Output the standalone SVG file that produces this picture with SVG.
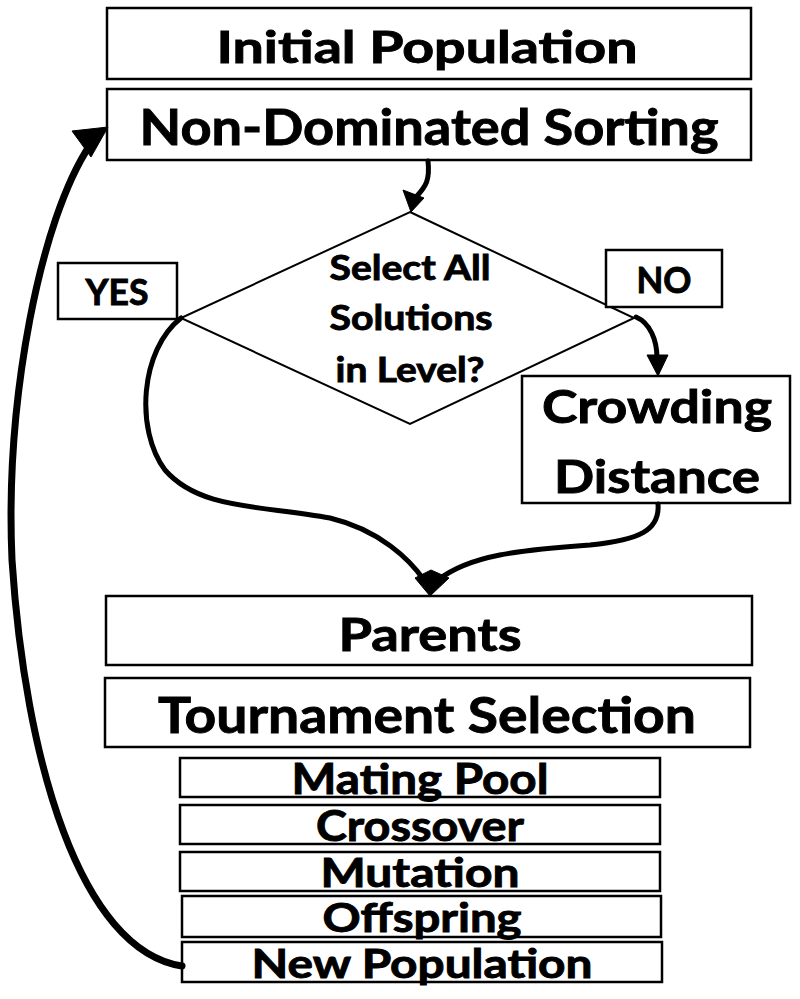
<svg xmlns="http://www.w3.org/2000/svg" width="800" height="999" viewBox="0 0 800 999">
<style>
.box{fill:#fff;stroke:#000;stroke-width:2.5}
.t{font-family:Lato,"Open Sans","Liberation Sans",sans-serif;font-weight:bold;fill:#000;stroke:#000;stroke-width:0.9;text-anchor:middle}
.c{fill:none;stroke:#000;stroke-linecap:round}
.h{fill:#000;stroke:#000;stroke-width:1;stroke-linejoin:round}
</style>
<rect width="800" height="999" fill="#fff"/>
<g id="initial-population">
<rect class="box" x="107" y="8" width="644" height="71"/>
<text class="t" x="427" y="63" font-size="43" textLength="421" lengthAdjust="spacingAndGlyphs">Initial Population</text>
</g>
<g id="non-dominated-sorting">
<rect class="box" x="107" y="89" width="644" height="71"/>
<text class="t" x="429" y="145" font-size="49" textLength="579" lengthAdjust="spacingAndGlyphs">Non-Dominated Sorting</text>
</g>
<g id="decision">
<polygon points="410,212 634,318 410,424 181,318" fill="#fff" stroke="#000" stroke-width="2"/>
<text class="t" x="410" y="280" font-size="35" textLength="161" lengthAdjust="spacingAndGlyphs">Select All</text>
<text class="t" x="411" y="330" font-size="35" textLength="163" lengthAdjust="spacingAndGlyphs">Solutions</text>
<text class="t" x="410" y="382" font-size="35" textLength="149" lengthAdjust="spacingAndGlyphs">in Level?</text>
</g>
<g id="yes-label">
<rect class="box" x="58" y="263" width="119" height="56"/>
<text class="t" x="117" y="305" font-size="36" textLength="63" lengthAdjust="spacingAndGlyphs">YES</text>
</g>
<g id="no-label">
<rect class="box" x="606" y="250" width="116" height="57"/>
<text class="t" x="664" y="293" font-size="36" textLength="55" lengthAdjust="spacingAndGlyphs">NO</text>
</g>
<g id="crowding-distance">
<rect class="box" x="522" y="376" width="268" height="127"/>
<text class="t" x="657" y="423" font-size="45" textLength="230" lengthAdjust="spacingAndGlyphs">Crowding</text>
<text class="t" x="657" y="493" font-size="45" textLength="206" lengthAdjust="spacingAndGlyphs">Distance</text>
</g>
<g id="parents">
<rect class="box" x="106" y="596" width="646" height="69"/>
<text class="t" x="430" y="651" font-size="46" textLength="183" lengthAdjust="spacingAndGlyphs">Parents</text>
</g>
<g id="tournament-selection">
<rect class="box" x="105" y="678" width="645" height="69"/>
<text class="t" x="427" y="733" font-size="50" textLength="538" lengthAdjust="spacingAndGlyphs">Tournament Selection</text>
</g>
<g id="mating-pool">
<rect class="box" x="180" y="758" width="480" height="39"/>
<text class="t" x="420" y="794" font-size="42" textLength="257" lengthAdjust="spacingAndGlyphs">Mating Pool</text>
</g>
<g id="crossover">
<rect class="box" x="180" y="805" width="480" height="39"/>
<text class="t" x="420" y="841" font-size="42" textLength="208" lengthAdjust="spacingAndGlyphs">Crossover</text>
</g>
<g id="mutation">
<rect class="box" x="180" y="852" width="480" height="39"/>
<text class="t" x="420" y="887" font-size="40" textLength="199" lengthAdjust="spacingAndGlyphs">Mutation</text>
</g>
<g id="offspring">
<rect class="box" x="182" y="896" width="479" height="41"/>
<text class="t" x="422" y="932" font-size="40" textLength="199" lengthAdjust="spacingAndGlyphs">Offspring</text>
</g>
<g id="new-population">
<rect class="box" x="182" y="942" width="480" height="40"/>
<text class="t" x="422" y="978" font-size="40" textLength="341" lengthAdjust="spacingAndGlyphs">New Population</text>
</g>
<g id="connectors">
<path class="c" stroke-width="5" d="M428,161 C430,180 426,186 417,196"/>
<polygon class="h" points="411,212 403,190 424,198"/>
<path class="c" stroke-width="5" d="M636,317 C650,323 657,340 657,358"/>
<polygon class="h" points="658,376 647,355 668,355"/>
<path class="c" stroke-width="5" d="M181,318 C140,350 135,430 165,470 C200,510 260,505 330,518 C380,530 410,560 424,580"/>
<path class="c" stroke-width="5" d="M658,504 C660,530 640,540 590,545 C520,550 470,555 438,580"/>
<polygon class="h" points="430,596 415,578 431,570 449,578"/>
<path class="c" stroke-width="7" d="M182,966 C80,950 25,760 12,560 C5,400 40,220 90,145"/>
<polygon class="h" points="108,127 72,131 91,157"/>
</g>
</svg>
